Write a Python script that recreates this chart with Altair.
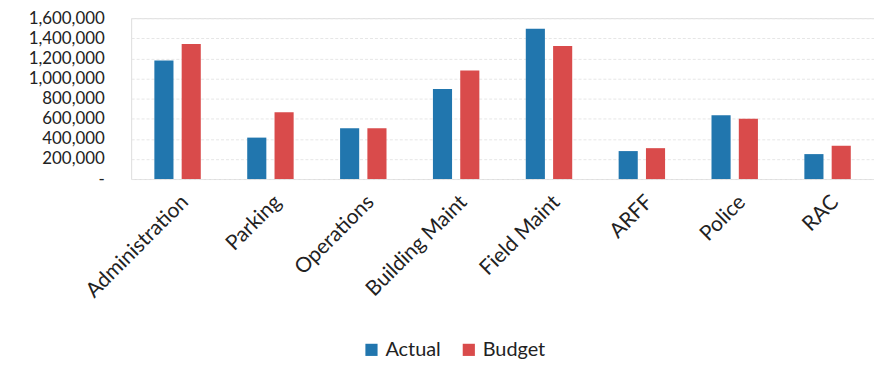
import altair as alt
import pandas as pd

categories = ["Administration", "Parking", "Operations", "Building Maint", "Field Maint", "ARFF", "Police", "RAC"]
actual = [1178000, 412000, 504000, 896000, 1495000, 278000, 635000, 248000]
budget = [1342000, 664000, 504000, 1080000, 1322000, 307000, 599000, 331000]
series = ["Actual", "Budget"]
colors = ["#2176AE", "#D94B4B"]

rows = []
for c, a, b in zip(categories, actual, budget):
    rows.append({"category": c, "series": "Actual", "value": a})
    rows.append({"category": c, "series": "Budget", "value": b})
df = pd.DataFrame(rows)

font = "Lato"

chart = alt.Chart(df).mark_bar().encode(
    x=alt.X("category:N", sort=categories, title=None,
            scale=alt.Scale(paddingInner=0.5, paddingOuter=0.25),
            axis=alt.Axis(labelAngle=-45, labelFontSize=21, labelFont=font, labelColor="#222222",
                          domain=False, ticks=False, labelPadding=12)),
    xOffset=alt.XOffset("series:N", sort=series, scale=alt.Scale(paddingInner=0.3)),
    y=alt.Y("value:Q", title=None,
            scale=alt.Scale(domain=[0, 1600000], nice=False),
            axis=alt.Axis(values=list(range(0, 1600001, 200000)),
                          labelExpr="datum.value == 0 ? '-' : format(datum.value, ',')",
                          labelFontSize=17, labelFont=font, labelColor="#222222",
                          domain=False, ticks=False, labelPadding=27,
                          gridColor="#e6e6e6", gridDash=[3, 2])),
    color=alt.Color("series:N", sort=series, title=None,
                    scale=alt.Scale(domain=series, range=colors),
                    legend=alt.Legend(orient="none", legendX=232, legendY=324, direction="horizontal",
                                      labelFontSize=20, labelFont=font, labelColor="#222222",
                                      symbolType="square", symbolSize=150, symbolStrokeWidth=0,
                                      columnPadding=18)),
).properties(width=748, height=162).configure_view(stroke=None).configure(padding={"left": 20, "top": 0, "right": 0, "bottom": 0})

chart.save("out.html", embed_options={"renderer": "svg", "actions": False})
